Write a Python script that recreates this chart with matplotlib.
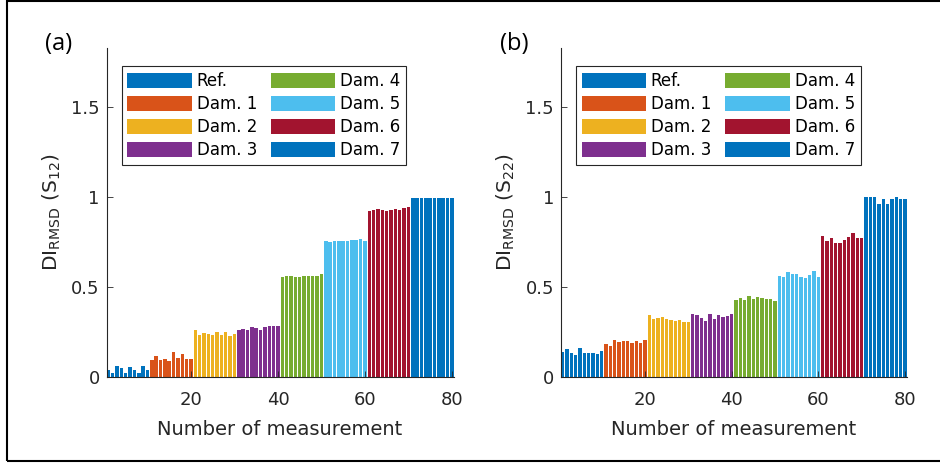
import numpy as np
import matplotlib
matplotlib.use('Agg')
import matplotlib.pyplot as plt
from matplotlib.patches import Patch, Rectangle

plt.rcParams['font.family'] = ['DejaVu Sans']
plt.rcParams['mathtext.fontset'] = 'dejavusans'

# Nombres de los grupos (10 mediciones cada uno)
groups = ['Ref.', 'Dam. 1', 'Dam. 2', 'Dam. 3', 'Dam. 4', 'Dam. 5', 'Dam. 6', 'Dam. 7']
group_colors = ['#0072BD', '#D95319', '#EDB120', '#7E2F8E', '#77AC30', '#4DBEEE', '#A2142F', '#0072BD']

# Datos S12 (panel a)
s12_ref = [0.039, 0.024, 0.061, 0.048, 0.024, 0.053, 0.037, 0.021, 0.061, 0.039]
s12_dam1 = [0.092, 0.116, 0.095, 0.098, 0.089, 0.137, 0.104, 0.128, 0.099, 0.099]
s12_dam2 = [0.259, 0.236, 0.244, 0.239, 0.236, 0.253, 0.236, 0.248, 0.226, 0.239]
s12_dam3 = [0.263, 0.268, 0.263, 0.276, 0.272, 0.264, 0.279, 0.283, 0.285, 0.285]
s12_dam4 = [0.559, 0.561, 0.561, 0.559, 0.559, 0.561, 0.562, 0.562, 0.562, 0.574]
s12_dam5 = [0.756, 0.751, 0.756, 0.756, 0.756, 0.758, 0.762, 0.762, 0.765, 0.756]
s12_dam6 = [0.924, 0.931, 0.935, 0.927, 0.924, 0.929, 0.937, 0.931, 0.939, 0.944]
s12_dam7 = [0.996, 0.993, 0.998, 0.993, 0.993, 0.995, 0.993, 0.996, 0.995, 0.997]

# Datos S22 (panel b)
s22_ref = [0.137, 0.155, 0.136, 0.123, 0.164, 0.132, 0.132, 0.136, 0.129, 0.142]
s22_dam1 = [0.186, 0.173, 0.204, 0.194, 0.203, 0.198, 0.190, 0.199, 0.189, 0.208]
s22_dam2 = [0.345, 0.323, 0.331, 0.336, 0.325, 0.319, 0.313, 0.318, 0.307, 0.308]
s22_dam3 = [0.348, 0.345, 0.331, 0.311, 0.352, 0.324, 0.346, 0.335, 0.341, 0.350]
s22_dam4 = [0.431, 0.438, 0.427, 0.449, 0.433, 0.446, 0.440, 0.433, 0.433, 0.423]
s22_dam5 = [0.562, 0.558, 0.582, 0.573, 0.575, 0.554, 0.549, 0.567, 0.590, 0.558]
s22_dam6 = [0.782, 0.757, 0.771, 0.748, 0.743, 0.760, 0.777, 0.799, 0.772, 0.772]
s22_dam7 = [0.999, 0.999, 0.999, 0.962, 0.990, 0.965, 0.988, 1.000, 0.989, 0.989]

data_s12 = [s12_ref, s12_dam1, s12_dam2, s12_dam3, s12_dam4, s12_dam5, s12_dam6, s12_dam7]
data_s22 = [s22_ref, s22_dam1, s22_dam2, s22_dam3, s22_dam4, s22_dam5, s22_dam6, s22_dam7]

fig = plt.figure(figsize=(9.4, 4.63), dpi=100)

# Marco alrededor de la figura (el borde derecho queda fuera de la imagen)
fig.patches.append(Rectangle((0.0075, 0.004), 1.02, 0.993, transform=fig.transFigure,
                             fill=False, edgecolor='black', linewidth=1.5))

grey = '#262626'


def plot_panel(pos, data, ylabel, tag, tag_x):
    ax = fig.add_axes(pos)
    for i, vals in enumerate(data):
        x = np.arange(1, 11) + 10 * i
        ax.bar(x, vals, width=0.8, color=group_colors[i], linewidth=0)
    ax.set_xlim(0.6, 80.4)
    ax.set_ylim(0, 1.83)
    ax.set_xticks([20, 40, 60, 80])
    ax.set_yticks([0, 0.5, 1, 1.5])
    ax.set_yticklabels(['0', '0.5', '1', '1.5'])
    ax.tick_params(direction='in', length=4, labelsize=13, colors=grey, width=0.6)
    ax.tick_params(axis='x', pad=10)
    ax.tick_params(axis='y', pad=5)
    ax.spines['top'].set_visible(False)
    ax.spines['right'].set_visible(False)
    ax.spines['left'].set_color(grey)
    ax.spines['bottom'].set_color(grey)
    ax.set_xlabel('Number of measurement', fontsize=14, color=grey, labelpad=8)
    ax.set_ylabel(ylabel, fontsize=14.5, color=grey, labelpad=6)
    handles = [Patch(facecolor=c, edgecolor='none') for c in group_colors]
    leg = ax.legend(handles, groups, ncol=2, loc='upper left', bbox_to_anchor=(0.043, 0.945),
                    borderaxespad=0, fontsize=12, handlelength=3.85, handleheight=1.0,
                    labelspacing=0.3, columnspacing=0.85, handletextpad=0.3, borderpad=0.35,
                    fancybox=False, edgecolor=grey, framealpha=1)
    leg.get_frame().set_linewidth(0.8)
    for t in leg.get_texts():
        t.set_color('black')
    fig.text(tag_x, 0.905, tag, fontsize=17, ha='left', va='center', family='Open Sans')
    return ax


plot_panel([0.1134, 0.1857, 0.3692, 0.7106], data_s12, r'DI$_{\mathrm{RMSD}}$ (S$_{12}$)', '(a)', 0.048)
plot_panel([0.5968, 0.1857, 0.3678, 0.7106], data_s22, r'DI$_{\mathrm{RMSD}}$ (S$_{22}$)', '(b)', 0.532)

plt.savefig('out.png', dpi=100)
